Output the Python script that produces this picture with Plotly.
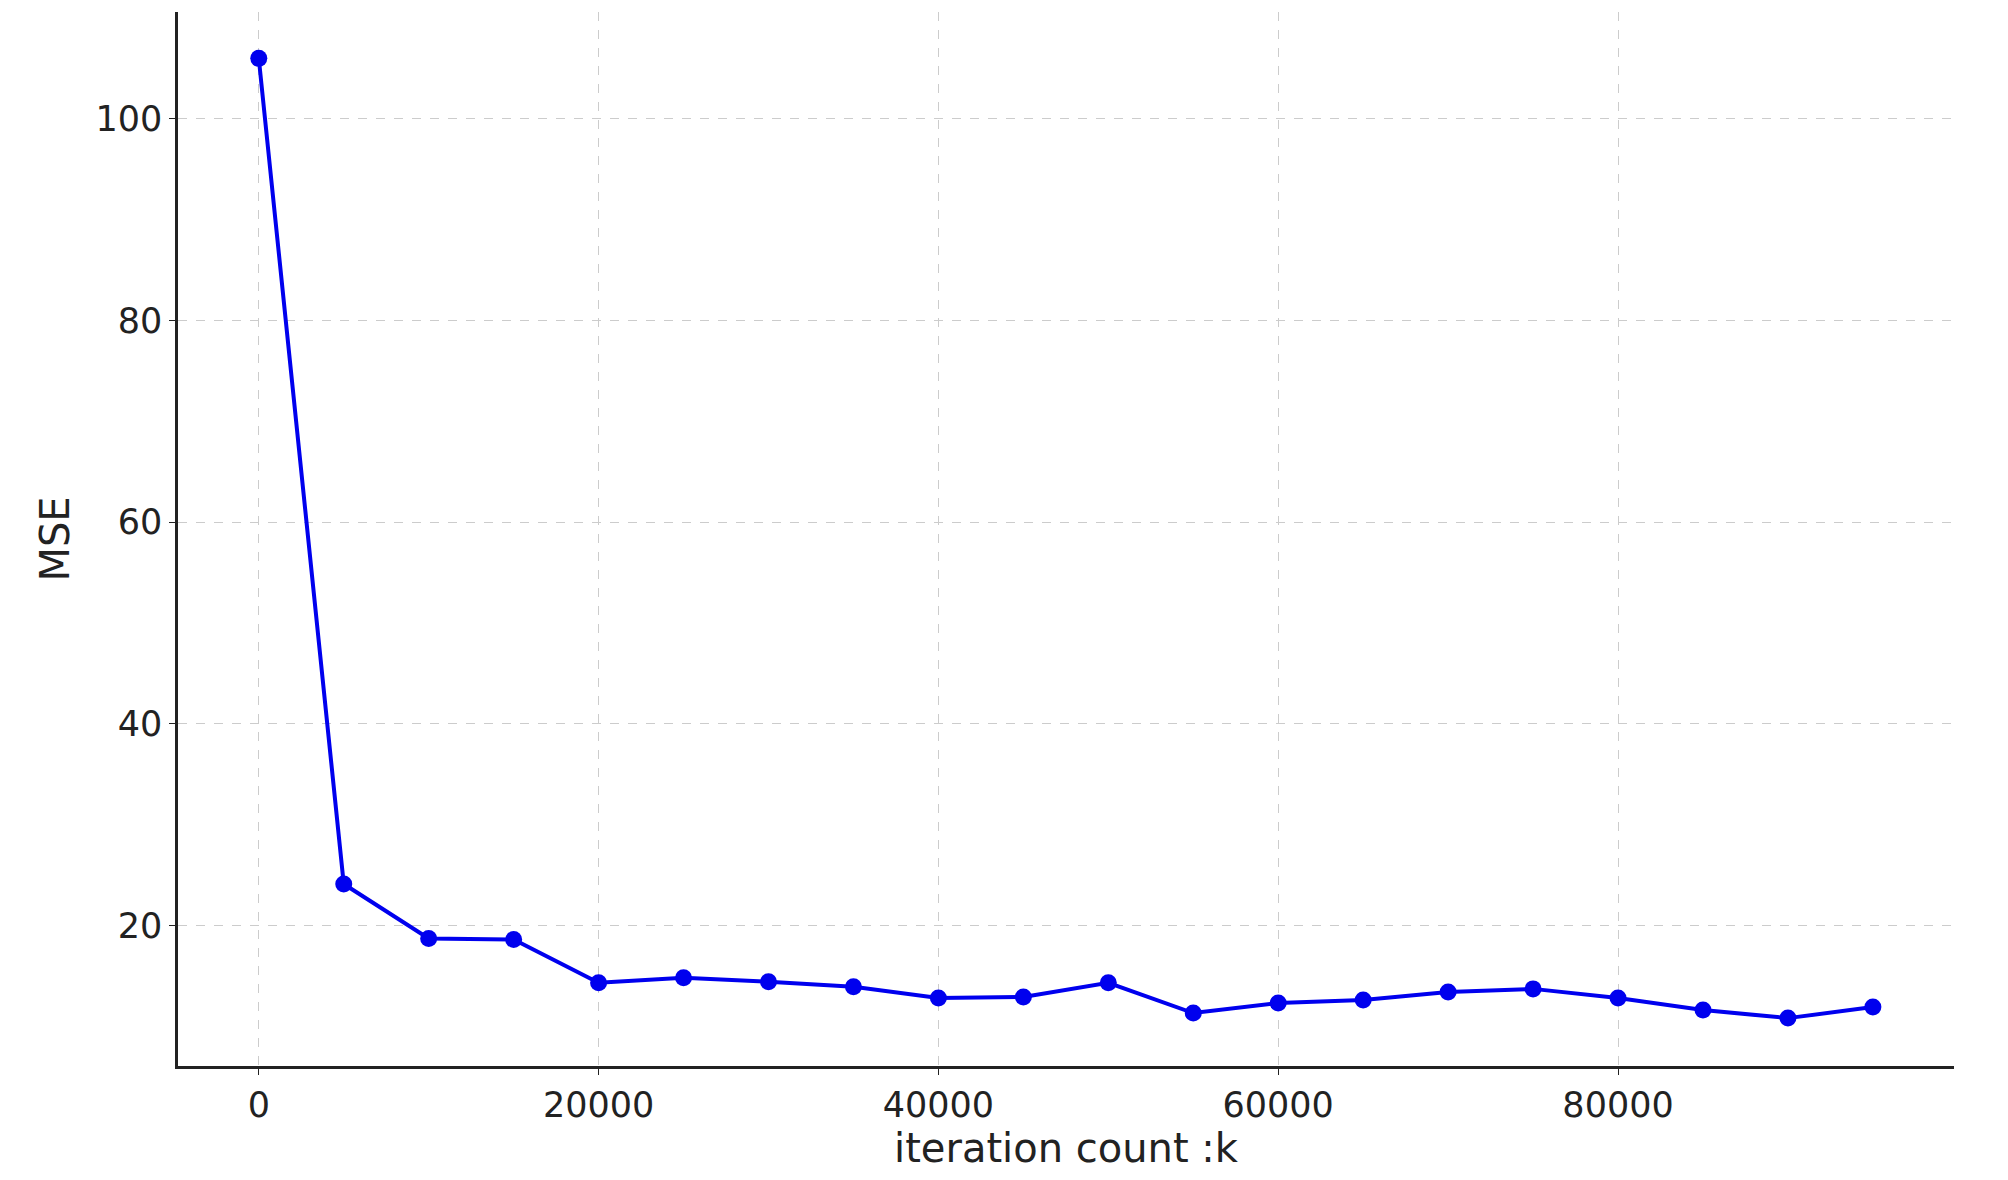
import plotly.graph_objects as go

iterations = [0, 5000, 10000, 15000, 20000, 25000, 30000, 35000, 40000, 45000,
              50000, 55000, 60000, 65000, 70000, 75000, 80000, 85000, 90000, 95000]
mse = [106.0, 24.1, 18.7, 18.6, 14.3, 14.8, 14.4, 13.9, 12.8, 12.9,
       14.3, 11.3, 12.3, 12.6, 13.4, 13.7, 12.8, 11.6, 10.8, 11.9]
x_ticks = [0, 20000, 40000, 60000, 80000]
y_ticks = [20, 40, 60, 80, 100]

fig = go.Figure()
fig.add_trace(go.Scatter(x=iterations, y=mse, mode="lines+markers",
                         line=dict(color="#0000ee", width=4),
                         marker=dict(color="#0000ee", size=17)))

axis_common = dict(showgrid=True, gridcolor="#cccccc", griddash="dash", gridwidth=1.3,
                   showline=True, linecolor="#222222", linewidth=2.5, zeroline=False,
                   ticks="outside", ticklen=6, tickcolor="#222222",
                   tickfont=dict(size=35, color="#222222"), mirror=False)

fig.update_xaxes(range=[-4755, 99774], tickvals=x_ticks, ticktext=[str(v) for v in x_ticks],
                 title=dict(text="iteration count :k", font=dict(size=40, color="#222222"), standoff=6),
                 **axis_common)
fig.update_yaxes(range=[6.05, 110.6], tickvals=y_ticks, ticktext=[str(v) for v in y_ticks],
                 title=dict(text="MSE", font=dict(size=40, color="#222222"), standoff=14),
                 **axis_common)

fig.update_layout(width=2008, height=1180, showlegend=False,
                  plot_bgcolor="white", paper_bgcolor="white",
                  font=dict(family="DejaVu Sans"),
                  margin=dict(l=170, r=62, t=4, b=122))

fig.write_html("out.html")
